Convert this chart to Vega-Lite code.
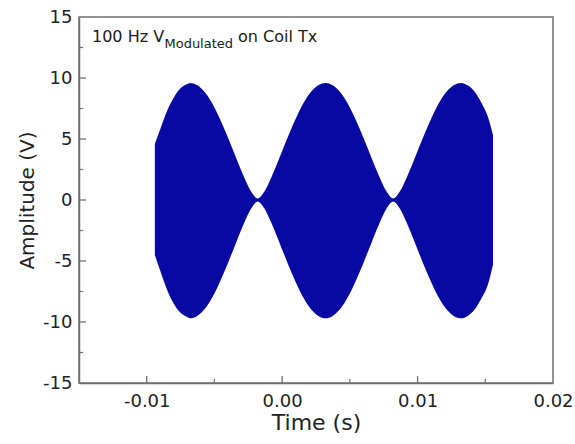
{
  "$schema": "https://vega.github.io/schema/vega-lite/v6.json",
  "width": 474,
  "height": 366,
  "autosize": "none",
  "padding": {"left": 79, "top": 17, "right": 22, "bottom": 61},
  "background": "white",
  "config": {
    "view": {"stroke": "#707070", "strokeWidth": 1.5},
    "font": "DejaVu Sans"
  },
  "data": {
    "values": [
      {"t": -0.0094, "hi": 4.6, "lo": -4.5},
      {"t": -0.0090, "hi": 5.8, "lo": -5.8},
      {"t": -0.0085, "hi": 7.3, "lo": -7.35},
      {"t": -0.0080, "hi": 8.4, "lo": -8.5},
      {"t": -0.0075, "hi": 9.15, "lo": -9.25},
      {"t": -0.0070, "hi": 9.5, "lo": -9.6},
      {"t": -0.0068, "hi": 9.6, "lo": -9.7},
      {"t": -0.0063, "hi": 9.43, "lo": -9.53},
      {"t": -0.0058, "hi": 8.95, "lo": -9.04},
      {"t": -0.0053, "hi": 8.17, "lo": -8.25},
      {"t": -0.0048, "hi": 7.14, "lo": -7.21},
      {"t": -0.0043, "hi": 5.91, "lo": -5.97},
      {"t": -0.0038, "hi": 4.56, "lo": -4.61},
      {"t": -0.0033, "hi": 3.18, "lo": -3.21},
      {"t": -0.0028, "hi": 1.85, "lo": -1.87},
      {"t": -0.0023, "hi": 0.71, "lo": -0.72},
      {"t": -0.0018, "hi": 0.12, "lo": -0.12},
      {"t": -0.0013, "hi": 0.71, "lo": -0.72},
      {"t": -0.0008, "hi": 1.85, "lo": -1.87},
      {"t": -0.0003, "hi": 3.18, "lo": -3.21},
      {"t": 0.0002, "hi": 4.56, "lo": -4.61},
      {"t": 0.0007, "hi": 5.91, "lo": -5.97},
      {"t": 0.0012, "hi": 7.14, "lo": -7.21},
      {"t": 0.0017, "hi": 8.17, "lo": -8.25},
      {"t": 0.0022, "hi": 8.95, "lo": -9.04},
      {"t": 0.0027, "hi": 9.43, "lo": -9.53},
      {"t": 0.0032, "hi": 9.6, "lo": -9.7},
      {"t": 0.0037, "hi": 9.43, "lo": -9.53},
      {"t": 0.0042, "hi": 8.95, "lo": -9.04},
      {"t": 0.0047, "hi": 8.17, "lo": -8.25},
      {"t": 0.0052, "hi": 7.14, "lo": -7.21},
      {"t": 0.0057, "hi": 5.91, "lo": -5.97},
      {"t": 0.0062, "hi": 4.56, "lo": -4.61},
      {"t": 0.0067, "hi": 3.18, "lo": -3.21},
      {"t": 0.0072, "hi": 1.85, "lo": -1.87},
      {"t": 0.0077, "hi": 0.71, "lo": -0.72},
      {"t": 0.0082, "hi": 0.12, "lo": -0.12},
      {"t": 0.0087, "hi": 0.71, "lo": -0.72},
      {"t": 0.0092, "hi": 1.85, "lo": -1.87},
      {"t": 0.0097, "hi": 3.18, "lo": -3.21},
      {"t": 0.0102, "hi": 4.56, "lo": -4.61},
      {"t": 0.0107, "hi": 5.91, "lo": -5.97},
      {"t": 0.0112, "hi": 7.14, "lo": -7.21},
      {"t": 0.0117, "hi": 8.17, "lo": -8.25},
      {"t": 0.0122, "hi": 8.95, "lo": -9.04},
      {"t": 0.0127, "hi": 9.43, "lo": -9.53},
      {"t": 0.0132, "hi": 9.6, "lo": -9.7},
      {"t": 0.0137, "hi": 9.4, "lo": -9.5},
      {"t": 0.0142, "hi": 8.9, "lo": -9.0},
      {"t": 0.0147, "hi": 8.0, "lo": -8.1},
      {"t": 0.0152, "hi": 6.8, "lo": -6.9},
      {"t": 0.01557, "hi": 5.3, "lo": -5.3}
    ]
  },
  "layer": [
    {
      "mark": {"type": "area", "color": "#0808a2", "interpolate": "monotone", "opacity": 1},
      "encoding": {
        "x": {
          "field": "t",
          "type": "quantitative",
          "scale": {"domain": [-0.015, 0.02], "nice": false, "zero": false},
          "axis": {
            "values": [-0.01, 0, 0.01, 0.02],
            "title": "Time (s)",
            "titleFontSize": 22,
            "titleFontWeight": "normal",
            "titleColor": "#222222",
            "titlePadding": 2,
            "labelFontSize": 18,
            "labelColor": "#222222",
            "labelExpr": "replace(format(datum.value, '.2f'), '\u2212', '-')",
            "ticks": false,
            "domainColor": "#707070",
            "domainWidth": 1.5,
            "labelPadding": 9,
            "labelFlush": false,
            "grid": false
          }
        },
        "y": {
          "field": "hi",
          "type": "quantitative",
          "scale": {"domain": [-15, 15], "nice": false},
          "axis": {
            "values": [-15, -10, -5, 0, 5, 10, 15],
            "title": "Amplitude (V)",
            "titleFontSize": 20,
            "titleFontWeight": "normal",
            "titleColor": "#222222",
            "titlePadding": 5,
            "labelFontSize": 18,
            "labelColor": "#222222",
            "labelExpr": "toString(datum.value)",
            "ticks": false,
            "domainColor": "#707070",
            "domainWidth": 1.5,
            "labelPadding": 7,
            "labelFlush": false,
            "grid": false
          }
        },
        "y2": {"field": "lo"}
      }
    },
    {
      "data": {"values": [{"m": -0.01}, {"m": 0}, {"m": 0.01}]},
      "mark": {"type": "rule", "color": "#707070", "strokeWidth": 1.3},
      "encoding": {
        "x": {"field": "m", "type": "quantitative"},
        "y": {"datum": -15, "type": "quantitative"},
        "y2": {"datum": -14.43}
      }
    },
    {
      "data": {"values": [{"m": -0.005}, {"m": 0.005}, {"m": 0.015}]},
      "mark": {"type": "rule", "color": "#707070", "strokeWidth": 1.2},
      "encoding": {
        "x": {"field": "m", "type": "quantitative"},
        "y": {"datum": -15, "type": "quantitative"},
        "y2": {"datum": -14.67}
      }
    },
    {
      "data": {"values": [{"m": -10}, {"m": -5}, {"m": 0}, {"m": 5}, {"m": 10}]},
      "mark": {"type": "rule", "color": "#707070", "strokeWidth": 1.3},
      "encoding": {
        "y": {"field": "m", "type": "quantitative"},
        "x": {"datum": -0.015, "type": "quantitative"},
        "x2": {"datum": -0.01448}
      }
    },
    {
      "data": {"values": [{"m": -12.5}, {"m": -7.5}, {"m": -2.5}, {"m": 2.5}, {"m": 7.5}, {"m": 12.5}]},
      "mark": {"type": "rule", "color": "#707070", "strokeWidth": 1.2},
      "encoding": {
        "y": {"field": "m", "type": "quantitative"},
        "x": {"datum": -0.015, "type": "quantitative"},
        "x2": {"datum": -0.0147}
      }
    },
    {
      "data": {"values": [{"txt": "100 Hz V"}]},
      "mark": {"type": "text", "align": "left", "baseline": "alphabetic", "fontSize": 16, "color": "#1a1a1a"},
      "encoding": {
        "x": {"datum": -0.01404, "type": "quantitative"},
        "y": {"datum": 12.95, "type": "quantitative"},
        "text": {"field": "txt"}
      }
    },
    {
      "data": {"values": [{"txt": "Modulated"}]},
      "mark": {"type": "text", "align": "left", "baseline": "alphabetic", "fontSize": 13, "color": "#1a1a1a"},
      "encoding": {
        "x": {"datum": -0.00869, "type": "quantitative"},
        "y": {"datum": 12.43, "type": "quantitative"},
        "text": {"field": "txt"}
      }
    },
    {
      "data": {"values": [{"txt": "on Coil Tx"}]},
      "mark": {"type": "text", "align": "left", "baseline": "alphabetic", "fontSize": 16, "color": "#1a1a1a"},
      "encoding": {
        "x": {"datum": -0.00326, "type": "quantitative"},
        "y": {"datum": 12.95, "type": "quantitative"},
        "text": {"field": "txt"}
      }
    }
  ]
}
